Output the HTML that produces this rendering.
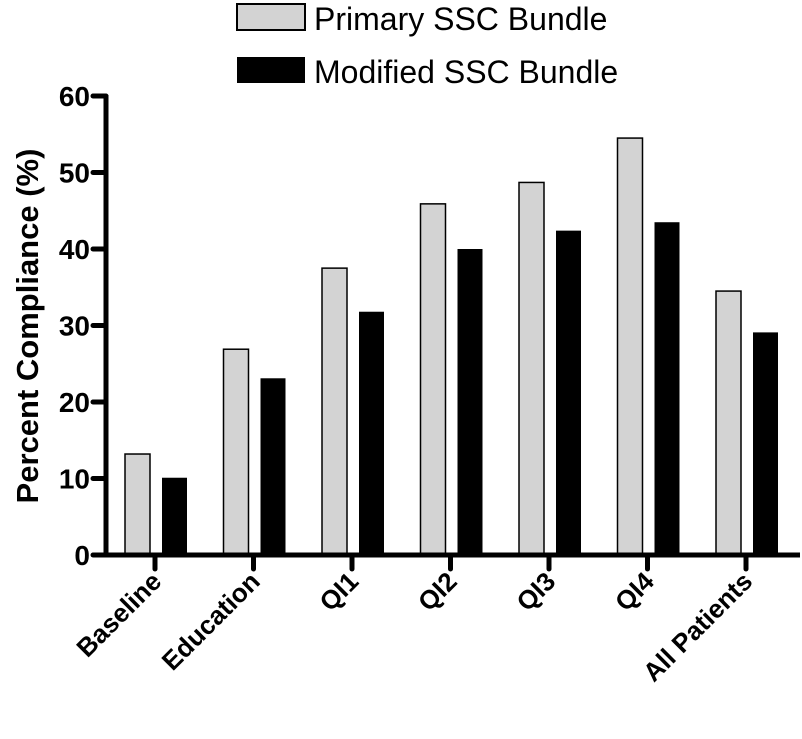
<!DOCTYPE html>
<html><head><meta charset="utf-8"><style>
body{margin:0;background:#fff}
svg{display:block;font-family:"Liberation Sans",Arial,sans-serif}
</style></head><body>
<svg id="chart" width="802" height="739">
<g>
<rect x="237" y="4" width="68" height="26" fill="#d3d3d3" stroke="#000" stroke-width="2"/>
<text x="314" y="30" font-size="32">Primary SSC Bundle</text>
<rect x="237" y="57" width="68" height="26" fill="#000"/>
<text x="314" y="83" font-size="32">Modified SSC Bundle</text>
</g>
<text transform="translate(38,326) rotate(-90)" text-anchor="middle" font-size="31" font-weight="bold">Percent  Compliance (%)</text>
<g id="plot"></g>
</svg>
<script>
const categories=["Baseline","Education","QI1","QI2","QI3","QI4","All Patients"];
const primary=[13.2,26.9,37.5,45.9,48.7,54.5,34.5];
const modified=[10.1,23.1,31.8,40.0,42.4,43.5,29.1];
const yTicks=[0,10,20,30,40,50,60];
const ns="http://www.w3.org/2000/svg";
const g=document.getElementById('plot');
const y0=555,pxPer=7.65,x0=155,step=98.5;
const y=v=>y0-v*pxPer;
const xc=i=>x0+i*step;
function mk(t,a){const e=document.createElementNS(ns,t);for(const k in a)e.setAttribute(k,a[k]);g.appendChild(e);return e;}
categories.forEach((c,i)=>{
  let r=mk('rect',{x:xc(i)-30,y:y(primary[i]),width:25,height:primary[i]*pxPer,fill:'#d3d3d3',stroke:'#000','stroke-width':1.5});
  
  
  let b=mk('rect',{x:xc(i)+7,y:y(modified[i]),width:25,height:modified[i]*pxPer,fill:'#000'});
  
  
  let tk=mk('line',{x1:xc(i),x2:xc(i),y1:y0,y2:y0+14,stroke:'#000','stroke-width':5,'stroke-linecap':'round'});
  
  
  let t=mk('text',{transform:`translate(${xc(i)+8},${y0+28}) rotate(-45)`,'text-anchor':'end','font-size':26,'font-weight':'bold'});
  t.textContent=c;
  
  
});
yTicks.forEach(v=>{
  let l=mk('line',{x1:93,x2:106,y1:y(v),y2:y(v),stroke:'#000','stroke-width':5,'stroke-linecap':'round'});
  
  
  let t=mk('text',{x:90,y:y(v)+10,'text-anchor':'end','font-size':28,'font-weight':'bold'});
  t.textContent=v;
  
  
});
let ya=mk('line',{x1:106,x2:106,y1:y(60)-1,y2:y0+2,stroke:'#000','stroke-width':5});


let xa=mk('line',{x1:93,x2:800,y1:y0,y2:y0,stroke:'#000','stroke-width':5});


</script>
</body></html>
